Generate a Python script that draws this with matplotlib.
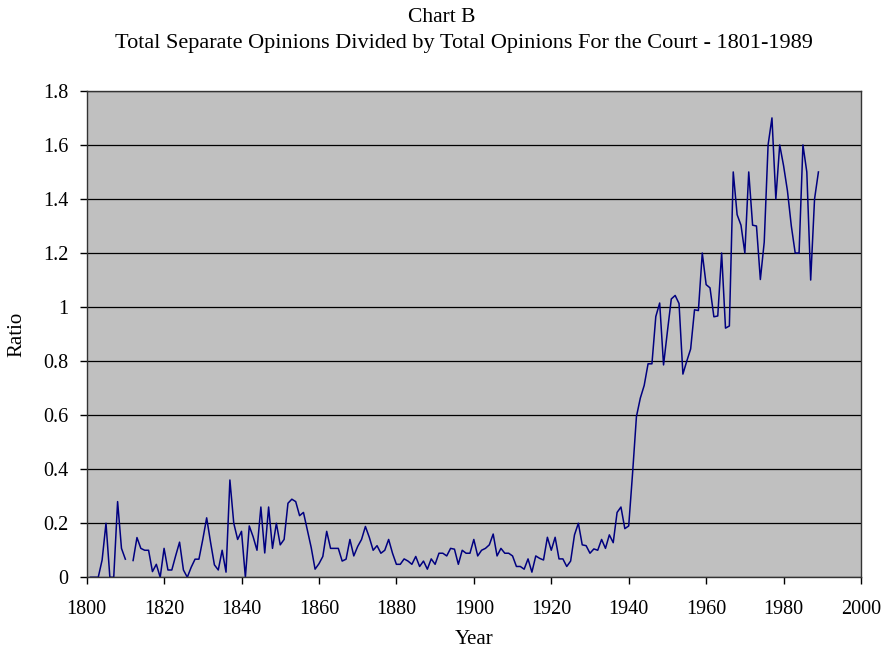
import numpy as np
import matplotlib
matplotlib.use("Agg")
from matplotlib import pyplot as plt
from matplotlib.ticker import FuncFormatter

# data (ratio of separate opinions to opinions for the court)
years = np.arange(1801, 1990)
ratio = [
    0, 0, 0, 0.064, 0.2, 0, 0, 0.28, 0.107, 0.067,            # 1801-1810
    np.nan, 0.062, 0.147, 0.107, 0.10, 0.10, 0.021, 0.048, 0, 0.107,  # 1811-1820
    0.027, 0.027, 0.08, 0.13, 0.027, 0, 0.037, 0.067, 0.067, 0.14,   # 1821-1830
    0.22, 0.13, 0.046, 0.027, 0.10, 0.019, 0.36, 0.2, 0.14, 0.17,    # 1831-1840
    0, 0.19, 0.15, 0.10, 0.26, 0.09, 0.26, 0.107, 0.2, 0.12,         # 1841-1850
    0.14, 0.274, 0.289, 0.28, 0.228, 0.24, 0.175, 0.11, 0.03, 0.05,  # 1851-1860
    0.077, 0.17, 0.107, 0.107, 0.107, 0.06, 0.067, 0.14, 0.079, 0.114,  # 1861-1870
    0.14, 0.188, 0.148, 0.10, 0.117, 0.089, 0.10, 0.14, 0.089, 0.048,  # 1871-1880
    0.048, 0.068, 0.06, 0.048, 0.077, 0.04, 0.06, 0.03, 0.068, 0.048,  # 1881-1890
    0.089, 0.089, 0.079, 0.107, 0.104, 0.048, 0.10, 0.089, 0.089, 0.14,  # 1891-1900
    0.079, 0.10, 0.107, 0.12, 0.16, 0.079, 0.107, 0.089, 0.089, 0.079,  # 1901-1910
    0.04, 0.04, 0.03, 0.068, 0.019, 0.079, 0.07, 0.064, 0.148, 0.10,   # 1911-1920
    0.148, 0.068, 0.068, 0.04, 0.06, 0.157, 0.2, 0.12, 0.117, 0.089,   # 1921-1930
    0.105, 0.10, 0.14, 0.107, 0.157, 0.128, 0.24, 0.26, 0.18, 0.19,    # 1931-1940
    0.385, 0.595, 0.663, 0.71, 0.79, 0.79, 0.965, 1.015, 0.786, 0.91,  # 1941-1950
    1.03, 1.043, 1.013, 0.752, 0.80, 0.845, 0.99, 0.987, 1.2, 1.083,   # 1951-1960
    1.071, 0.964, 0.967, 1.2, 0.922, 0.93, 1.5, 1.342, 1.303, 1.2,     # 1961-1970
    1.5, 1.303, 1.3, 1.102, 1.24, 1.6, 1.7, 1.4, 1.6, 1.523,           # 1971-1980
    1.43, 1.3, 1.2, 1.2, 1.6, 1.5, 1.1, 1.4, 1.5,                      # 1981-1989
]

plt.rcParams['font.family'] = ['Liberation Serif', 'DejaVu Serif']

fig = plt.figure(figsize=(8.84, 6.52), dpi=100)
ax = fig.add_axes([0.098, 0.1146, 0.876, 0.746])
ax.set_facecolor('#C0C0C0')

ax.plot(years, ratio, color='#000080', lw=1.1, zorder=2)

ax.set_xlim(1800, 2000)
ax.set_ylim(0, 1.8)
ax.set_xticks(np.arange(1800, 2001, 20))
ax.set_yticks(np.arange(0, 1.81, 0.2))
ax.yaxis.set_major_formatter(FuncFormatter(lambda v, p: f'{v:g}'))
ax.grid(axis='y', color='black', lw=0.9, zorder=1)
ax.set_axisbelow(True)
ax.tick_params(direction='out', length=5, width=1, labelsize=14.5)
ax.tick_params(axis='x', pad=11)
ax.tick_params(axis='y', pad=8)

for s in ax.spines.values():
    s.set_color('#333333')
    s.set_linewidth(1)

ax.set_xlabel('Year', fontsize=15, labelpad=8)
ax.set_ylabel('Ratio', fontsize=15, labelpad=12)

fig.text(0.5, 0.988, 'Chart B', ha='center', va='top', fontsize=15.5)
fig.text(0.525, 0.948, 'Total Separate Opinions Divided by Total Opinions For the Court - 1801-1989',
         ha='center', va='top', fontsize=16)

plt.savefig('out.png', dpi=100)
